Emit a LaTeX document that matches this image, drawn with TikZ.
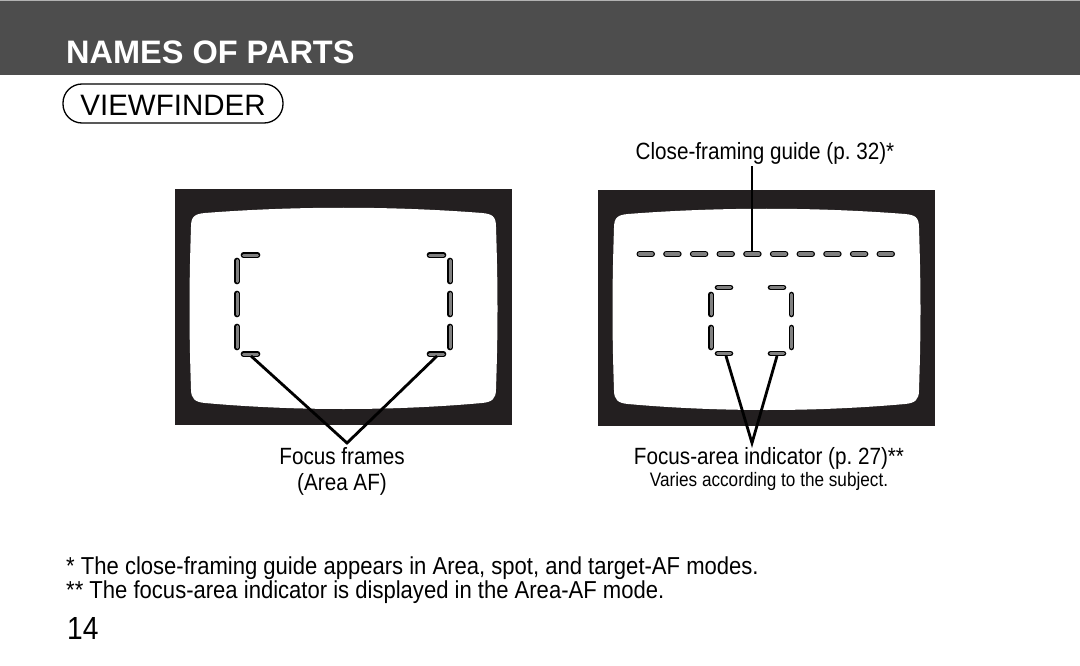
\documentclass[tikz,border=0pt]{standalone}
\usepackage{fontspec}
\setmainfont{Liberation Sans}
\newfontfamily\narrowsf[FakeStretch=0.88]{Liberation Sans}
\newfontfamily\notesf[FakeStretch=0.9]{Liberation Sans}
\usetikzlibrary{calc}
\definecolor{bandgray}{HTML}{4D4D4D}
\definecolor{vfblack}{HTML}{231F20}
\definecolor{markgray}{HTML}{808080}
\tikzset{
  afdash/.style={draw=black, line width=1.3pt, double=markgray, double distance=3pt, line cap=round},
  guidedash/.style={afdash, double distance=3.4pt},
  leader/.style={line width=2.8pt},
  lbl/.style={inner sep=0pt, anchor=base, font=\narrowsf\fontsize{23.5}{28}\selectfont},
  smalllbl/.style={inner sep=0pt, anchor=base, font=\narrowsf\fontsize{19.5}{23}\selectfont},
  note/.style={inner sep=0pt, anchor=base west, font=\notesf\fontsize{24.5}{28}\selectfont},
}
% black viewfinder with the slightly barrelled white screen
\newcommand{\vfscreen}{%
  \fill[vfblack] (0,0) rectangle (337,236);
  \fill[white] (16,38) .. controls (16,27) and (20,25) .. (30,24)
    .. controls (120,17) and (217,17) .. (307,24)
    .. controls (317,25) and (321,27) .. (321,38)
    .. controls (323,100) and (323,140) .. (321,200)
    .. controls (321,210) and (317,213) .. (307,214)
    .. controls (217,222) and (120,222) .. (30,214)
    .. controls (20,213) and (16,210) .. (16,200)
    .. controls (14,140) and (14,100) .. (16,38) -- cycle;
}

\begin{document}
\begin{tikzpicture}[x=1pt,y=-1pt]
  \useasboundingbox (0,0) rectangle (1080,666);
  \fill[bandgray] (0,0) rectangle (1080,75);
  \fill[gray!60] (0,0) rectangle (1080,1.5);
  \node[anchor=base west, inner sep=0pt, text=white, font=\bfseries\fontsize{32.5}{36}\selectfont] (title) at (66,64) {NAMES OF PARTS};
  \draw[line width=1.3pt, rounded corners=19pt] (63,84) rectangle (283,123);
  \node[anchor=base, inner sep=0pt, font=\fontsize{29.5}{32}\selectfont] (vf) at (173,116) {VIEWFINDER};

  % left: focus frames
  \begin{scope}[shift={(175,189)}]
    \vfscreen
    \foreach \x/\xv in {68.5/62, 254.5/275} {
      \draw[afdash] (\x,66) -- +(14,0);
      \draw[afdash] (\x,165) -- +(14,0);
      \foreach \y in {71.5,104.5,137.5}
        \draw[afdash] (\xv,\y) -- (\xv,\y+21);
    }
    \coordinate (ffL) at (76,167);
    \coordinate (ffR) at (262,167);
  \end{scope}
  \coordinate (ffapex) at (347,443);
  \draw[leader] (ffL) -- (ffapex) -- (ffR);
  \node[lbl] (ff) at (342,464) {Focus frames};
  \node[lbl] (ffsub) at (342,490) {(Area AF)};

  % right: close-framing guide and focus-area indicator
  \begin{scope}[shift={(598,190)}]
    \vfscreen
    \foreach \i in {0,...,9}
      \draw[guidedash] (41.5+26.67*\i,64) -- +(12.5,0);
    \foreach \x/\xv in {119.5/113, 172.5/193.5} {
      \draw[afdash] (\x,97.5) -- +(13,0);
      \draw[afdash] (\x,163.5) -- +(13,0);
      \foreach \y in {104.5,137.5}
        \draw[afdash] (\xv,\y) -- (\xv,\y+20);
    }
    \coordinate (cfg) at (154,62);
    \coordinate (faL) at (128,166);
    \coordinate (faR) at (179,166);
  \end{scope}
  \node[lbl] (cfglbl) at (765,160) {Close-framing guide (p.~32)*};
  \draw[leader] ($(cfglbl.south -| cfg)+(0,1)$) -- (cfg);
  \coordinate (faapex) at (752,443);
  \draw[leader] (faL) -- (faapex) -- (faR);
  \node[lbl] (fa) at (769,464) {Focus-area indicator (p.~27)**};
  \node[smalllbl] (fasub) at (769,486) {Varies according to the subject.};

  \node[note] (note1) at (66,574) {* The close-framing guide appears in Area, spot, and target-AF modes.};
  \node[note] (note2) at (66,598) {** The focus-area indicator is displayed in the Area-AF mode.};
  \node[anchor=base west, inner sep=0pt, font=\narrowsf\fontsize{32}{36}\selectfont] (page) at (67,639) {14};
\end{tikzpicture}
\end{document}
